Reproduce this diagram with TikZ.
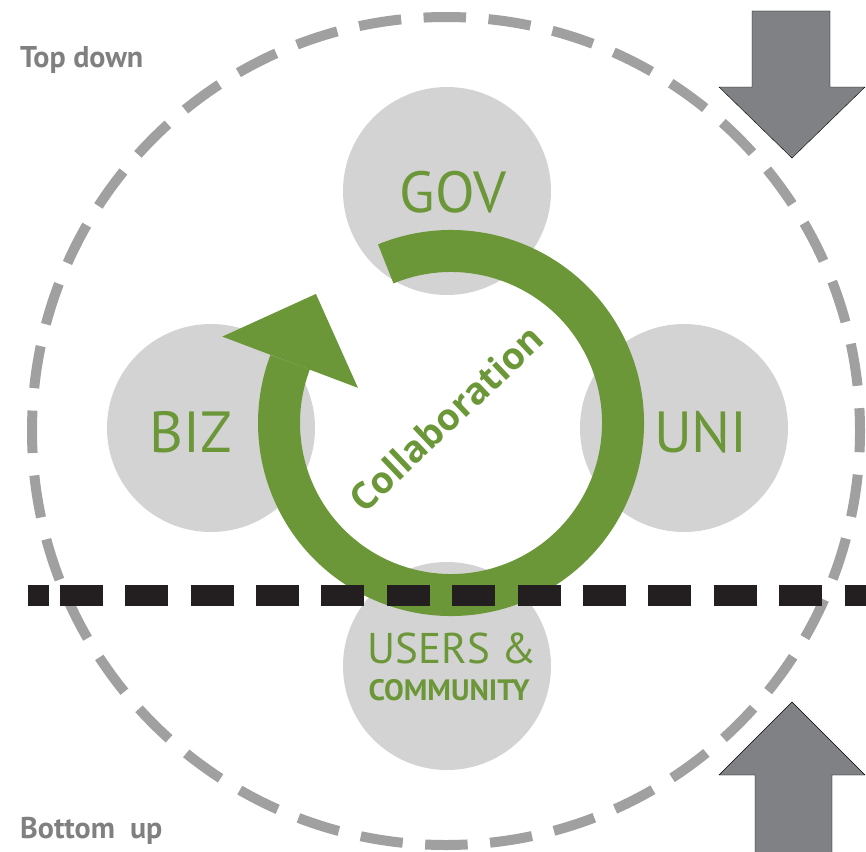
\documentclass[tikz,border=0pt]{standalone}
\usepackage{fontspec}
\setmainfont{PT Sans}
\newfontfamily\osans{Open Sans}
\usetikzlibrary{calc}
\definecolor{leaf}{HTML}{6B9738}
\definecolor{bubble}{HTML}{D3D3D3}
\definecolor{dashgray}{HTML}{A0A0A0}
\definecolor{arrgray}{HTML}{808184}
\definecolor{txtgray}{HTML}{808080}
\definecolor{inkblack}{HTML}{231F20}
\tikzset{
  bub/.style={circle, fill=bubble, draw=none, minimum size=208pt, inner sep=0pt},
  bigtxt/.style={text=leaf, font=\fontsize{58}{58}\selectfont, anchor=base, inner sep=0pt},
  sidetxt/.style={text=txtgray, font=\bfseries\fontsize{30}{30}\selectfont, anchor=base west, inner sep=0pt},
  bigarrow/.style={fill=arrgray, preaction={draw=white, line width=12pt, line join=miter}},
  ringline/.style={draw=leaf, line width=42pt},
}
\begin{document}
\begin{tikzpicture}[x=1pt,y=-1pt]
\useasboundingbox (0,0) rectangle (866,851);
% outer dashed circle
\coordinate (oc) at (446,431);
\draw[dashgray, line width=10pt, dash pattern=on 42.5pt off 22.5pt, dash phase=21.25pt] (oc) circle[radius=414];
% bubbles
\node[bub] (gov) at (447,191) {};
\node[bub] (biz) at (211,428) {};
\node[bub] (uni) at (684,428) {};
\node[bub] (usr) at (447,666) {};
% ring
\coordinate (rc) at (451,423);
\draw[ringline] ($(rc)+(-112.3:172)$) arc[start angle=-112.3, end angle=200.7, radius=172];
\coordinate (am) at ($(rc)+(200.7:172)$);
\coordinate (ab1) at ($(rc)+(200.7:244.5)$);
\coordinate (ab2) at ($(rc)+(200.7:99.5)$);
\coordinate (atip) at ($(am)+(290.7:73)$);
\fill[leaf] (ab1) -- (atip) -- (ab2) -- cycle;
\node[text=leaf, font=\osans\bfseries\fontsize{37}{37}\selectfont, rotate=43.5, inner sep=0pt] (collab) at (446,418) {Collaboration};
% labels
\node[bigtxt] (govt) at (453,212) {GOV};
\node[bigtxt] (bizt) at (191,452) {BIZ};
\node[bigtxt] (unit) at (701,452) {UNI};
\node[text=leaf, font=\fontsize{43}{43}\selectfont, anchor=base, inner sep=0pt] (usrt) at (452,663) {USERS \&};
\node[text=leaf, font=\bfseries\fontsize{29.5}{29.5}\selectfont, anchor=base, inner sep=0pt] (comt) at (449,700) {COMMUNITY};
% black dashed divider
\draw[inkblack, line width=21pt] (27.6,595) -- (48.6,595);
\draw[inkblack, line width=21pt, dash pattern=on 43pt off 22.4pt] (59.7,595) -- (866,595);
% side texts
\node[sidetxt] (top) at (20,67) {Top down};
\node[sidetxt] (bot) at (20,838) {Bottom\ \ up};
% big arrows
\draw[bigarrow] (752,11) -- (830,11) -- (830,87) -- (865,87) -- (792,158) -- (719,87) -- (752,87) -- cycle;
\draw[bigarrow] (792,702) -- (865,775) -- (832,775) -- (832,870) -- (755,870) -- (755,775) -- (719,775) -- cycle;
\end{tikzpicture}
\end{document}
